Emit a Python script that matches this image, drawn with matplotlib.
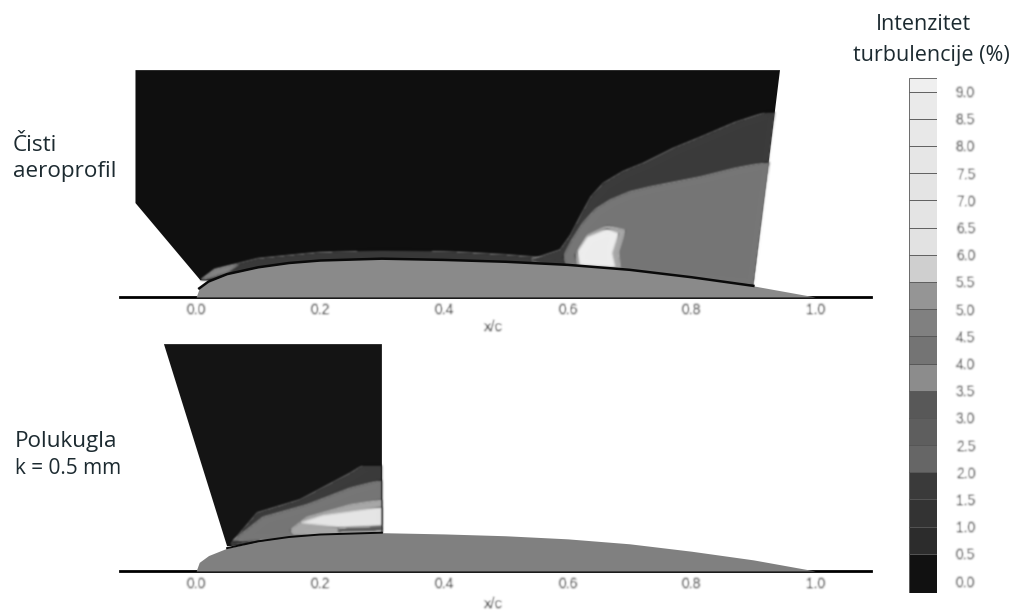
import numpy as np
import matplotlib
matplotlib.use("Agg")
import matplotlib.pyplot as plt

W, H = 1014, 615

# airfoil upper surface, y/c against x/c
foil_x = np.array([0.0, 0.005, 0.02, 0.05, 0.1, 0.15, 0.2, 0.3, 0.4, 0.5, 0.6, 0.7, 0.8, 0.9, 1.0])
foil_y = np.array([0.0, 0.014, 0.025, 0.037, 0.048, 0.055, 0.059, 0.062, 0.060, 0.057, 0.052, 0.044, 0.032, 0.018, 0.0])
ticks = [0.0, 0.2, 0.4, 0.6, 0.8, 1.0]

# contour regions for the clean airfoil
clean_field = [(-0.098, 0.367), (0.943, 0.367), (0.90, 0.019), (0.007, 0.027), (-0.098, 0.152)]
clean_skin = [(0.007, 0.027), (0.03, 0.043), (0.06, 0.052), (0.1, 0.062), (0.2, 0.072), (0.3, 0.076), (0.4, 0.074),
              (0.5, 0.068), (0.6, 0.060), (0.6, 0.04)]
clean_nose = [(0.007, 0.027), (0.03, 0.045), (0.07, 0.054), (0.05, 0.040)]
clean_outer = [(0.54, 0.060), (0.588, 0.076), (0.605, 0.100), (0.620, 0.129), (0.638, 0.162), (0.658, 0.184),
               (0.690, 0.203), (0.722, 0.216), (0.770, 0.240), (0.814, 0.258), (0.870, 0.282),
               (0.922, 0.299), (0.935, 0.299), (0.90, 0.019), (0.6, 0.04)]
clean_mid = [(0.593, 0.065), (0.607, 0.092), (0.625, 0.120), (0.645, 0.142), (0.669, 0.157), (0.700, 0.170),
             (0.733, 0.178), (0.814, 0.194), (0.870, 0.208), (0.922, 0.218), (0.926, 0.218),
             (0.90, 0.019), (0.68, 0.040), (0.6, 0.050)]
clean_halo = [(0.612, 0.068), (0.632, 0.100), (0.664, 0.115), (0.693, 0.108), (0.682, 0.073),
              (0.685, 0.045), (0.617, 0.050)]
clean_core = [(0.616, 0.073), (0.632, 0.097), (0.664, 0.110), (0.682, 0.103), (0.672, 0.071),
              (0.677, 0.048), (0.620, 0.052)]

# contour regions for the hemisphere case
rough_field = [(-0.052, 0.367), (0.30, 0.367), (0.30, 0.060), (0.05, 0.040)]
rough_outer = [(0.055, 0.042), (0.099, 0.094), (0.168, 0.115), (0.215, 0.140), (0.249, 0.158), (0.270, 0.171),
               (0.30, 0.171), (0.30, 0.060), (0.1, 0.050)]
rough_mid = [(0.058, 0.048), (0.108, 0.087), (0.179, 0.107), (0.249, 0.134), (0.30, 0.147),
             (0.30, 0.060), (0.1, 0.050)]
rough_halo = [(0.152, 0.066), (0.179, 0.087), (0.249, 0.107), (0.30, 0.115), (0.30, 0.060), (0.16, 0.058)]
rough_core = [(0.168, 0.078), (0.205, 0.090), (0.30, 0.103), (0.30, 0.074), (0.233, 0.071)]
rough_streak = [(0.23, 0.069), (0.30, 0.072), (0.30, 0.065), (0.23, 0.063)]

# colour bar
levels = [-0.22, 0.5, 1.0, 1.5, 2.0, 2.5, 3.0, 3.5, 4.0, 4.5, 5.0, 5.5, 6.0, 6.5, 7.0, 7.5, 8.0, 8.5, 9.0, 9.25]
level_colors = ['#111111', '#2c2c2c', '#333333', '#3a3a3a', '#666666', '#5e5e5e', '#585858', '#8c8c8c',
                '#747474', '#808080', '#959595', '#cfcfcf', '#e2e2e2', '#e4e4e4', '#e4e4e4', '#e6e6e6',
                '#e8e8e8', '#eaeaea', '#efefef']
level_labels = ['0.0', '0.5', '1.0', '1.5', '2.0', '2.5', '3.0', '3.5', '4.0', '4.5',
                '5.0', '5.5', '6.0', '6.5', '7.0', '7.5', '8.0', '8.5', '9.0']
level_ticks = [0.0, 0.5, 1.0, 1.5, 2.0, 2.5, 3.0, 3.5, 4.0, 4.5, 5.0, 5.5, 6.0, 6.5, 7.0, 7.5, 8.0, 8.5, 9.0]


def soften(img, dpi):
    # small gaussian, the original is a blurry scan
    pad = 6
    out = np.pad(img, ((pad, pad), (pad, pad), (0, 0)))
    kx = np.arange(-pad, pad + 1)
    k = np.exp(-kx ** 2 / (2 * 1.1 ** 2))
    k = k / k.sum()
    out = np.apply_along_axis(lambda v: np.convolve(v, k, mode='same'), 0, out)
    out = np.apply_along_axis(lambda v: np.convolve(v, k, mode='same'), 1, out)
    return out, -pad, -pad


def soft_text(img, dpi):
    pad = 3
    out = np.pad(img, ((pad, pad), (pad, pad), (0, 0)))
    k = np.array([0.06, 0.24, 0.4, 0.24, 0.06])
    out = np.apply_along_axis(lambda v: np.convolve(v, k, mode='same'), 0, out)
    out = np.apply_along_axis(lambda v: np.convolve(v, k, mode='same'), 1, out)
    return out, -pad, -pad


def px_axes(fig, left, top, right, bottom):
    return fig.add_axes([left / W, 1 - bottom / H, (right - left) / W, (bottom - top) / H])


def region(ax, pts, color, z, blur=True):
    patch = ax.fill(*zip(*pts), color=color, lw=0, zorder=z)[0]
    if blur:
        patch.set_agg_filter(soften)


def setup_axis(ax, label_pad):
    ax.set_xlim(-0.123, 1.09)
    ax.set_ylim(0, 0.385)
    for side in ['top', 'left', 'right']:
        ax.spines[side].set_visible(False)
    ax.spines['bottom'].set_linewidth(2)
    ax.patch.set_alpha(0)
    ax.set_yticks([])
    ax.set_xticks(ticks, [f"{t:.1f}" for t in ticks])
    ax.tick_params(axis='x', length=0, pad=4, labelsize=10, labelcolor='#262626')
    ax.set_xlabel('x/c', fontsize=10.5, color='#1a1a1a', labelpad=label_pad, x=0.497)
    ax.xaxis.label.set_agg_filter(soft_text)
    for lab in ax.get_xticklabels():
        lab.set_agg_filter(soft_text)


plt.rcParams['font.family'] = ['Liberation Sans', 'DejaVu Sans']
fig = plt.figure(figsize=(W / 100, H / 100), dpi=100)

# top panel
ax1 = px_axes(fig, 120, 59, 871, 297)
setup_axis(ax1, 2.5)
region(ax1, clean_field, '#0f0f0f', 1, blur=False)
region(ax1, clean_skin, '#3a3a3a', 2)
region(ax1, clean_nose, '#858585', 3)
region(ax1, clean_outer, '#3c3c3c', 2)
region(ax1, clean_mid, '#777777', 3)
region(ax1, clean_halo, '#a8a8a8', 4)
region(ax1, clean_core, '#eeeeee', 5)
ax1.fill_between(foil_x, 0, foil_y, color='#8a8a8a', lw=0, zorder=6)
m = (foil_x >= 0.005) & (foil_x <= 0.9)
ax1.plot(foil_x[m], foil_y[m], color='#0a0a0a', lw=1.8, zorder=7)

# bottom panel
ax2 = px_axes(fig, 120, 333, 871, 571)
setup_axis(ax2, 4.5)
region(ax2, rough_field, '#141414', 1, blur=False)
region(ax2, rough_outer, '#3c3c3c', 2)
region(ax2, rough_mid, '#777777', 3)
region(ax2, rough_halo, '#a8a8a8', 4)
region(ax2, rough_core, '#e6e6e6', 5)
region(ax2, rough_streak, '#555555', 6)
ax2.fill_between(foil_x, 0, foil_y, color='#808080', lw=0, zorder=6)
m = (foil_x >= 0.05) & (foil_x <= 0.3)
ax2.plot(foil_x[m], foil_y[m], color='#0a0a0a', lw=1.4, zorder=7)

# colour bar
cax = px_axes(fig, 909, 78, 937, 593)
heights = np.diff(levels)
cax.bar(np.zeros(len(heights)), heights, bottom=levels[:-1], width=1, color=level_colors,
        edgecolor='#555555', linewidth=0.6)
cax.set_xlim(-0.5, 0.5)
cax.set_ylim(levels[0], levels[-1])
cax.set_xticks([])
cax.yaxis.tick_right()
cax.set_yticks(level_ticks, level_labels)
cax.tick_params(axis='y', length=0, pad=13.5, labelsize=10, labelcolor='#333333')
for lab in cax.get_yticklabels():
    lab.set_agg_filter(soft_text)
for s in cax.spines.values():
    s.set_visible(False)

# annotations
font = ['Open Sans', 'DejaVu Sans']
for x, y, s, size in [(13, 145, 'Čisti', 16.2), (13, 172, 'aeroprofil', 16.2),
                      (15, 442, 'Polukugla', 16.2), (15, 469, 'k = 0.5 mm', 15)]:
    fig.text(x / W, 1 - y / H, s, family=font, fontsize=size, color='#1c2a30', va='center', ha='left')
fig.text(923 / W, 1 - 24 / H, 'Intenzitet', family=font, fontsize=15.5, color='#1c2a30', va='center', ha='center')
fig.text(931 / W, 1 - 55 / H, 'turbulencije (%)', family=font, fontsize=15.5, color='#1c2a30', va='center', ha='center')

fig.savefig('out.png', dpi=100)
